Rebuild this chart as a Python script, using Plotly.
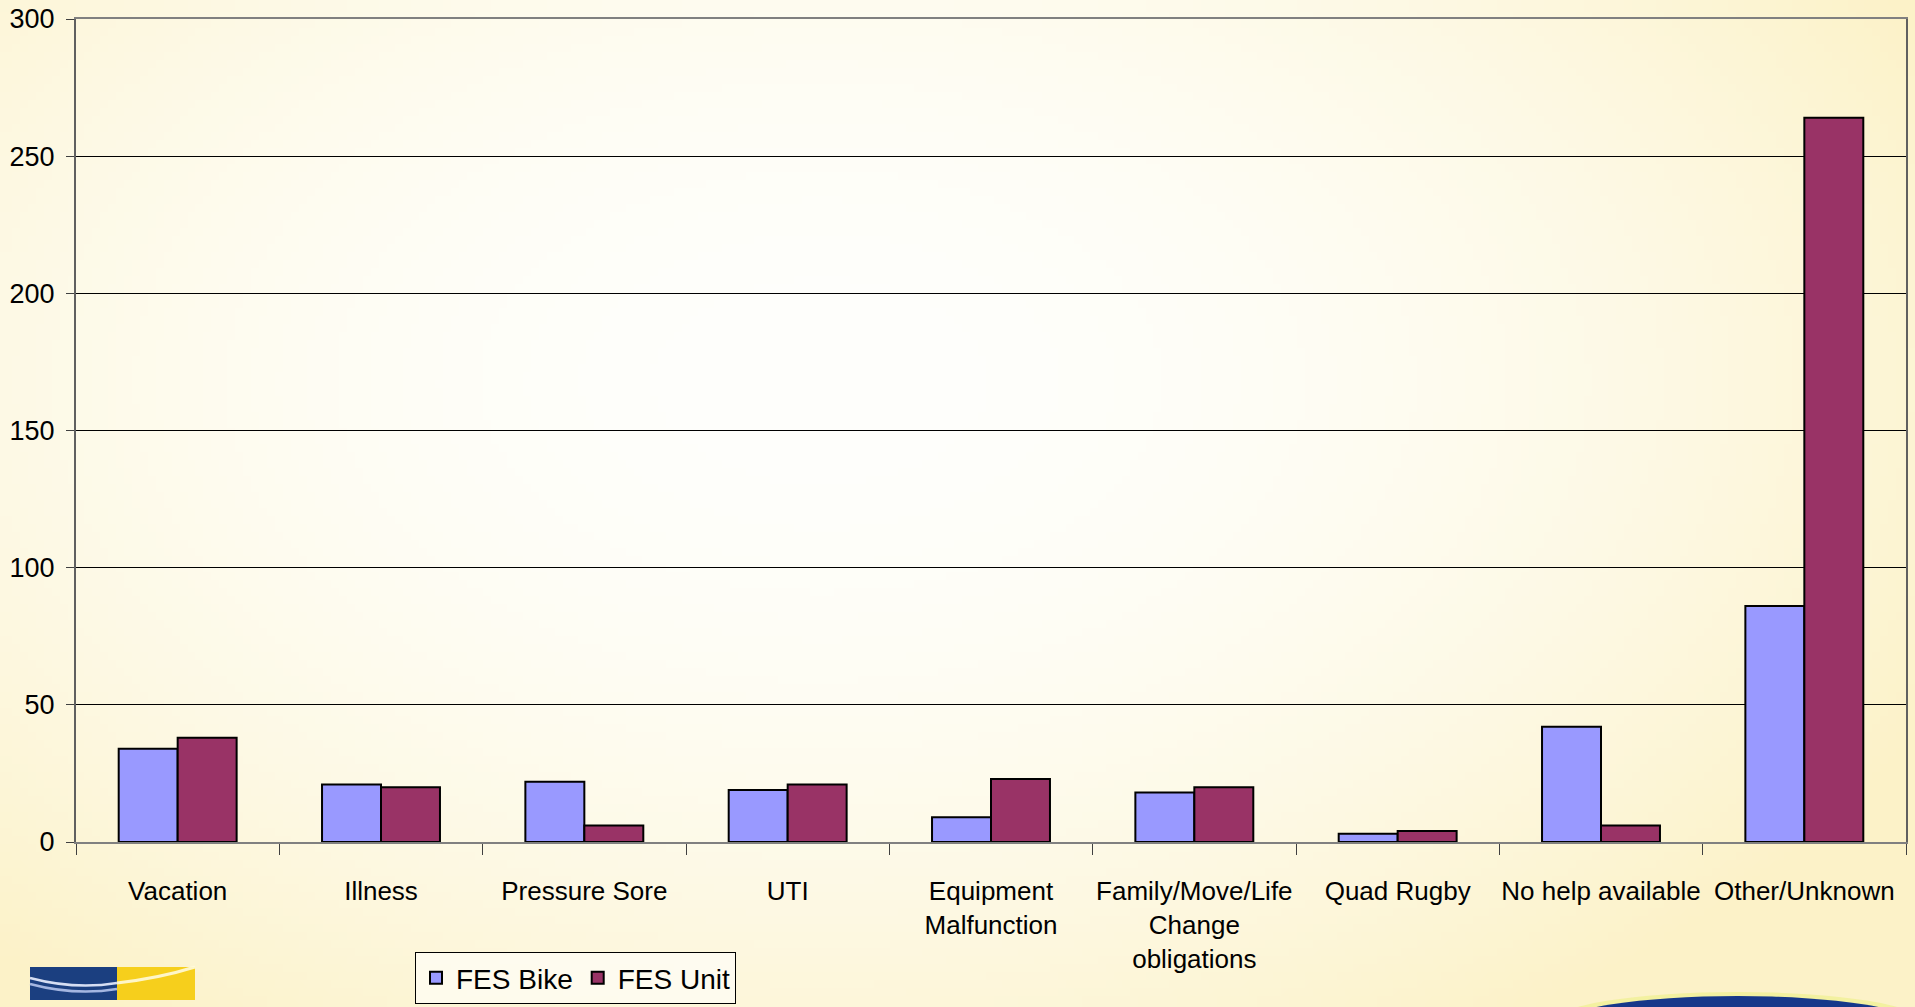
import base64, struct, zlib
import numpy as np
import plotly.graph_objects as go

# ---------------- data ----------------
categories = ["Vacation", "Illness", "Pressure Sore", "UTI",
              "Equipment<br>Malfunction", "Family/Move/Life<br>Change<br>obligations",
              "Quad Rugby", "No help available", "Other/Unknown"]
fes_bike = [34, 21, 22, 19, 9, 18, 3, 42, 86]
fes_unit = [38, 20, 6, 21, 23, 20, 4, 6, 264]
y_ticks = [0, 50, 100, 150, 200, 250, 300]

# ---------------- geometry ----------------
W, H = 1915, 1007
L, R, T, B = 76, 9, 19, 165
PW, PH = W - L - R, H - T - B


def px(x):
    return (x - L) / PW


def py(y):
    return 1 - (y - T) / PH


# ---------------- background gradient (PNG data uri) ----------------
def png_uri(arr):
    h, w, _ = arr.shape
    raw = b"".join(b"\x00" + arr[i].tobytes() for i in range(h))

    def chunk(tag, data):
        c = struct.pack(">I", len(data)) + tag + data
        return c + struct.pack(">I", zlib.crc32(tag + data) & 0xFFFFFFFF)

    png = b"\x89PNG\r\n\x1a\n" + chunk(b"IHDR", struct.pack(">IIBBBBB", w, h, 8, 2, 0, 0, 0))
    png += chunk(b"IDAT", zlib.compress(raw, 9)) + chunk(b"IEND", b"")
    return "data:image/png;base64," + base64.b64encode(png).decode()


gw, gh = 240, 126
gx, gy = np.meshgrid(np.linspace(0, W, gw), np.linspace(0, H, gh))
t = np.sqrt(((gx - 820) / 1250) ** 2 + ((gy - 380) / 780) ** 2)
t = np.clip(t, 0, 1) ** 2.0
center = np.array([255, 255, 252], dtype=float)
edge = np.array([252, 242, 200], dtype=float)
img = (center[None, None, :] * (1 - t[..., None]) + edge[None, None, :] * t[..., None]).astype(np.uint8)
bg_uri = png_uri(img)

# ---------------- figure ----------------
FONT = "Liberation Sans Narrow, Arial Narrow, Liberation Sans, Arial, sans-serif"
FS = 26

fig = go.Figure()
fig.add_trace(go.Bar(name="FES Bike", x=categories, y=fes_bike,
                     marker=dict(color="#9999FF", line=dict(color="#000000", width=2))))
fig.add_trace(go.Bar(name="FES Unit", x=categories, y=fes_unit,
                     marker=dict(color="#993366", line=dict(color="#000000", width=2))))

shapes = []
# logo bottom-left
shapes.append(dict(type="rect", xref="paper", yref="paper", x0=px(30), x1=px(117), y0=py(1000), y1=py(967),
                   fillcolor="#1B3F80", line=dict(width=0), layer="above"))
shapes.append(dict(type="rect", xref="paper", yref="paper", x0=px(117), x1=px(195), y0=py(1000), y1=py(967),
                   fillcolor="#F6CF1C", line=dict(width=0), layer="above"))
for dy, col in [(0, "rgba(235,240,255,0.9)"), (6, "rgba(180,195,235,0.9)")]:
    shapes.append(dict(type="path", xref="paper", yref="paper", layer="above",
                       path=f"M{px(30)},{py(978+dy)} Q{px(75)},{py(990+dy)} {px(117)},{py(983+dy)}",
                       line=dict(color=col, width=2.5)))
shapes.append(dict(type="path", xref="paper", yref="paper", layer="above",
                   path=f"M{px(117)},{py(983)} Q{px(160)},{py(978)} {px(195)},{py(967)}",
                   line=dict(color="rgba(255,250,220,0.9)", width=3)))
# bottom-right arc
shapes.append(dict(type="circle", xref="paper", yref="paper", x0=px(1555), x1=px(1920), y0=py(1050), y1=py(992),
                   fillcolor="rgba(240,240,150,0.8)", line=dict(width=0), layer="above"))
shapes.append(dict(type="circle", xref="paper", yref="paper", x0=px(1560), x1=px(1915), y0=py(1052), y1=py(996),
                   fillcolor="#16388A", line=dict(width=0), layer="above"))

fig.update_layout(
    width=W, height=H,
    margin=dict(l=L, r=R, t=T, b=B, pad=0, autoexpand=False),
    paper_bgcolor="#FDF6DA",
    plot_bgcolor="rgba(0,0,0,0)",
    barmode="group", bargap=0.42, bargroupgap=0,
    font=dict(family=FONT, size=FS, color="#000000"),
    showlegend=True,
    legend=dict(orientation="h", x=px(415), y=py(952), xanchor="left", yanchor="top",
                bgcolor="rgba(255,255,255,0.55)", bordercolor="#000000", borderwidth=1,
                font=dict(family=FONT, size=28, color="#000000"), itemwidth=30, traceorder="normal"),
    images=[dict(source=bg_uri, xref="paper", yref="paper", x=px(0), y=py(0),
                 sizex=W / PW, sizey=H / PH, xanchor="left", yanchor="top",
                 sizing="stretch", layer="below", opacity=1)],
    shapes=shapes,
)
fig.update_xaxes(type="category", tickson="boundaries", ticks="outside", ticklen=11, tickwidth=1,
                 tickcolor="#404040", showline=True, linecolor="#808080", linewidth=2, mirror=True,
                 showgrid=False, tickfont=dict(family=FONT, size=FS), ticklabelstandoff=25,
                 tickangle=0, automargin=False)
fig.update_yaxes(range=[0, 300], tickvals=y_ticks, ticks="outside", ticklen=8, tickwidth=1,
                 tickcolor="#404040", showline=True, linecolor="#606060", linewidth=2, mirror=True,
                 showgrid=True, gridcolor="#000000", gridwidth=1, zeroline=False,
                 tickfont=dict(family=FONT, size=27), ticklabelstandoff=6, automargin=False)

fig.write_html("out.html")
